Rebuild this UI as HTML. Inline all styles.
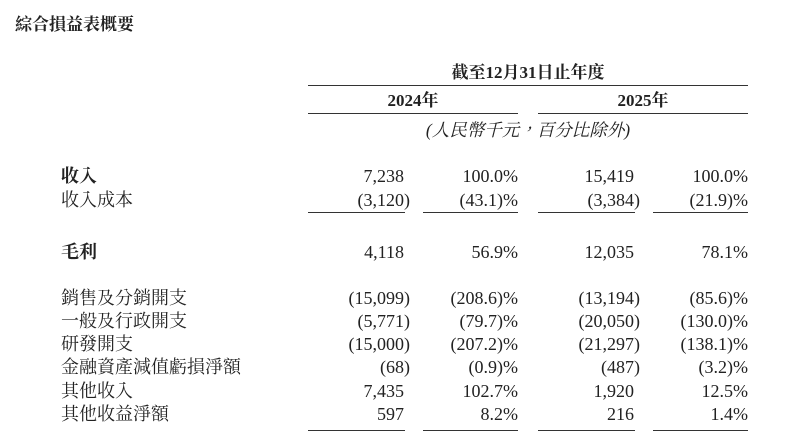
<!DOCTYPE html>
<html><head><meta charset="utf-8"><style>
body{margin:0;width:800px;height:440px;background:#fff;overflow:hidden;position:relative;font-family:"Liberation Serif","Noto Serif CJK TC","Noto Serif CJK SC",serif;color:#222;font-size:18px}
.t{position:absolute;white-space:nowrap;line-height:20px}
.r{position:absolute;white-space:nowrap;line-height:20px;text-align:right}
.b{font-weight:bold}
.l{position:absolute;height:1px;background:#333}
</style></head><body>
<div class="t b" style="left:15px;top:15px;font-size:17px">綜合損益表概要</div>
<div class="t b" style="left:308px;width:440px;text-align:center;top:63px;font-size:17px">截至12月31日止年度</div>
<div class="l" style="left:308px;width:440px;top:85px"></div>
<div class="t b" style="left:308px;width:210px;text-align:center;top:91px;font-size:17px">2024年</div>
<div class="t b" style="left:538px;width:210px;text-align:center;top:91px;font-size:17px">2025年</div>
<div class="l" style="left:308px;width:210px;top:113px"></div>
<div class="l" style="left:538px;width:210px;top:113px"></div>
<div class="t" style="left:308px;width:440px;text-align:center;top:120px;font-style:italic;font-size:17.5px">(人民幣千元，百分比除外)</div>
<div id="rows"></div>
<div class="l" style="left:308px;width:97px;top:212px"></div>
<div class="l" style="left:423px;width:95px;top:212px"></div>
<div class="l" style="left:538px;width:97px;top:212px"></div>
<div class="l" style="left:653px;width:95px;top:212px"></div>
<div class="l" style="left:308px;width:97px;top:430px"></div>
<div class="l" style="left:423px;width:95px;top:430px"></div>
<div class="l" style="left:538px;width:97px;top:430px"></div>
<div class="l" style="left:653px;width:95px;top:430px"></div>
<script>
var rows=[
["收入",176,1,"7,238","100.0%","15,419","100.0%"],
["收入成本",200,0,"(3,120)","(43.1)%","(3,384)","(21.9)%"],
["毛利",252,1,"4,118","56.9%","12,035","78.1%"],
["銷售及分銷開支",298,0,"(15,099)","(208.6)%","(13,194)","(85.6)%"],
["一般及行政開支",321,0,"(5,771)","(79.7)%","(20,050)","(130.0)%"],
["研發開支",344,0,"(15,000)","(207.2)%","(21,297)","(138.1)%"],
["金融資產減值虧損淨額",367,0,"(68)","(0.9)%","(487)","(3.2)%"],
["其他收入",391,0,"7,435","102.7%","1,920","12.5%"],
["其他收益淨額",414,0,"597","8.2%","216","1.4%"]];
var h="";
rows.forEach(function(r){
 var top=r[1]-10;
 h+='<div class="t'+(r[2]?' b':'')+'" style="left:61px;top:'+top+'px">'+r[0]+'</div>';
 var rights=[404,518,634,748];
 for(var i=0;i<4;i++){
  var v=r[3+i],rt=rights[i];
  if((i==0||i==2)&&v.charAt(v.length-1)==')')rt+=6;
  h+='<div class="r" style="right:'+(800-rt)+'px;top:'+top+'px">'+v+'</div>';
 }
});
document.getElementById("rows").innerHTML=h;
</script>
</body></html>
